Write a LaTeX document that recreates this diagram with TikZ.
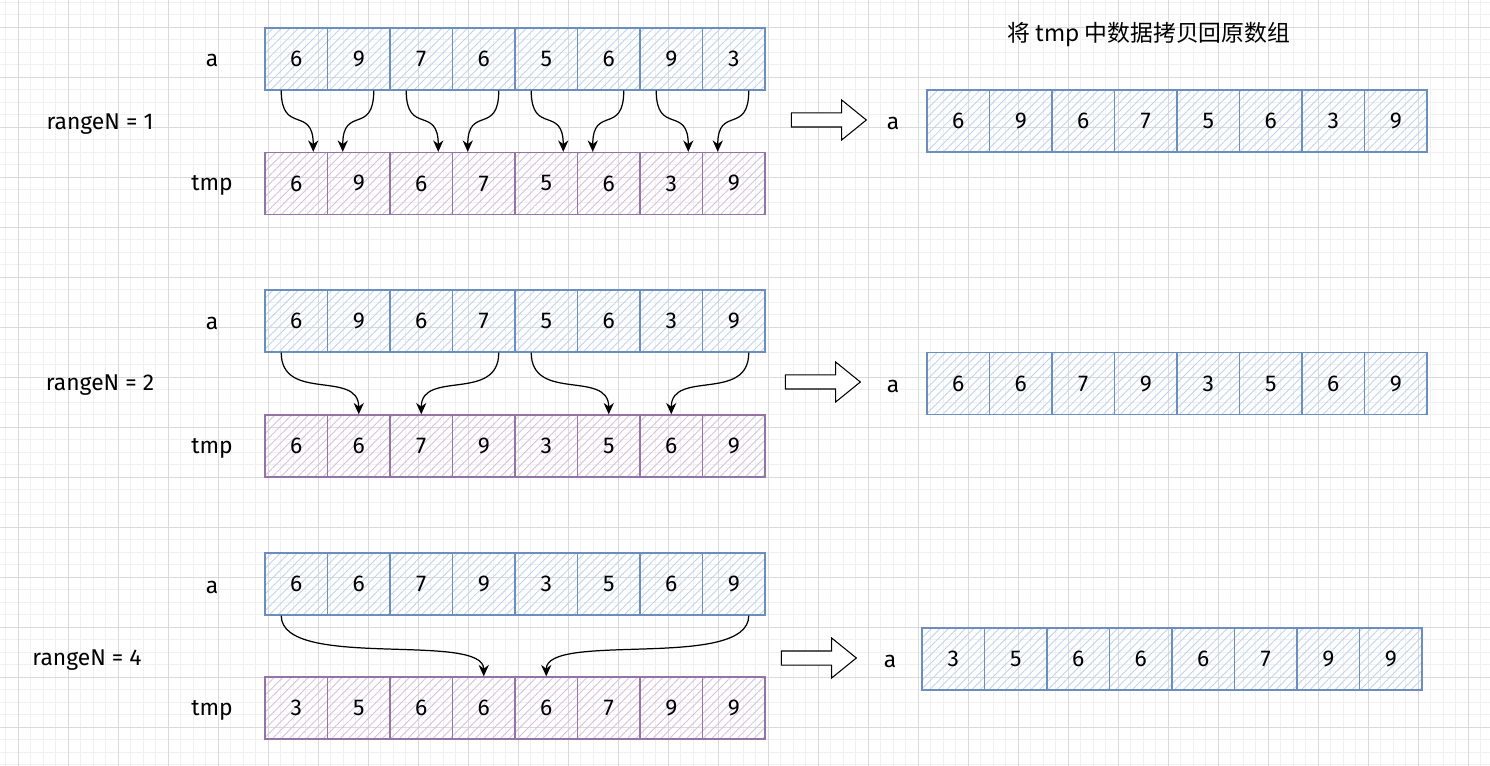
\documentclass[tikz,border=0pt]{standalone}
\usepackage{xcolor}
\usepackage{fontspec}
\setmainfont{Fira Sans}
\newfontfamily\cjk{Noto Sans CJK SC}
\usepackage{tikz}
\usetikzlibrary{arrows.meta, patterns.meta, shapes.arrows}

\definecolor{ablue}{HTML}{6C8EBF}
\definecolor{ahatch}{HTML}{BFD3F0}
\definecolor{tpurple}{HTML}{9673A6}
\definecolor{thatch}{HTML}{D5C2DD}
\definecolor{gridminor}{HTML}{F0F0F0}
\definecolor{gridmajor}{HTML}{DADADA}

\tikzset{
    cellbase/.style={minimum width=1.25cm, minimum height=1.24cm, inner sep=0, line width=0.75pt},
    acell/.style={cellbase, draw=ablue, pattern={Lines[angle=45, distance=3.4pt, line width=0.5pt]}, pattern color=ahatch},
    tcell/.style={cellbase, draw=tpurple, pattern={Lines[angle=45, distance=3.4pt, line width=0.5pt]}, pattern color=thatch},
    conn/.style={line width=0.7pt, -{Stealth[length=6.5pt, width=5.8pt]}},
    bigarrow/.style={single arrow, draw, line width=0.6pt, fill=white, minimum height=1.5cm,
        inner xsep=0, inner ysep=0.13cm, single arrow head extend=0.26cm, single arrow tip angle=78}
}

\begin{document}
\begin{tikzpicture}[x=0.02cm, y=-0.02cm, font=\fontsize{13}{15}\selectfont]
    \useasboundingbox (0, 0) rectangle (1490, 766);
    \fill[white] (0, 0) rectangle (1490, 766);

    % grid
    \foreach \gx in {5.5, 18, ..., 1490} \draw[gridminor, line width=0.5pt] (\gx, 0) -- (\gx, 766);
    \foreach \gy in {2, 14.5, ..., 766} \draw[gridminor, line width=0.5pt] (0, \gy) -- (1490, \gy);
    \foreach \gx in {18, 68, ..., 1490} \draw[gridmajor, line width=0.5pt] (\gx, 0) -- (\gx, 766);
    \foreach \gy in {27, 77, ..., 766} \draw[gridmajor, line width=0.5pt] (0, \gy) -- (1490, \gy);

    % title
    \node at (1149, 35) (title) {\cjk 将 tmp 中数据拷贝回原数组};

    % rangeN = 1
    \node at (100, 124) (n1) {rangeN = 1};
    \node at (212, 60) (la1) {a};
    \node at (212, 185) (lt1) {tmp};
    \foreach \v [count=\i from 0] in {6,9,7,6,5,6,9,3}
        \node[acell] (a1-\i) at (296.25+62.5*\i, 59) {\v};
    \foreach \v [count=\i from 0] in {6,9,6,7,5,6,3,9}
        \node[tcell] (t1-\i) at (296.25+62.5*\i, 183.5) {\v};
    \foreach \l/\r in {0/1, 2/3, 4/5, 6/7} {
        \draw[conn] ([xshift=-0.3cm]a1-\l.south) .. controls +(0, 45) and +(0, -47) .. ([xshift=0.34cm]t1-\l.north);
        \draw[conn] ([xshift=0.3cm]a1-\r.south) .. controls +(0, 45) and +(0, -47) .. ([xshift=-0.32cm]t1-\r.north);
    }
    \node[bigarrow] (go1) at (824.5, 120) {};
    \node at (893, 123) (lb1) {a};
    \foreach \v [count=\i from 0] in {6,9,6,7,5,6,3,9}
        \node[acell] (b1-\i) at (958.25+62.5*\i, 121) {\v};

    % rangeN = 2
    \node at (100, 385) (n2) {rangeN = 2};
    \node at (212, 323) (la2) {a};
    \node at (212, 448) (lt2) {tmp};
    \foreach \v [count=\i from 0] in {6,9,6,7,5,6,3,9}
        \node[acell] (a2-\i) at (296.25+62.5*\i, 321) {\v};
    \foreach \v [count=\i from 0] in {6,6,7,9,3,5,6,9}
        \node[tcell] (t2-\i) at (296.25+62.5*\i, 446) {\v};
    \draw[conn] ([xshift=-0.3cm]a2-0.south) .. controls +(0, 50) and +(0, -45) .. (t2-1.north);
    \draw[conn] ([xshift=0.3cm]a2-3.south) .. controls +(0, 50) and +(0, -45) .. (t2-2.north);
    \draw[conn] ([xshift=-0.3cm]a2-4.south) .. controls +(0, 50) and +(0, -45) .. (t2-5.north);
    \draw[conn] ([xshift=0.3cm]a2-7.south) .. controls +(0, 50) and +(0, -45) .. (t2-6.north);
    \node[bigarrow] (go2) at (818.5, 382) {};
    \node at (893, 386) (lb2) {a};
    \foreach \v [count=\i from 0] in {6,6,7,9,3,5,6,9}
        \node[acell] (b2-\i) at (958.25+62.5*\i, 383.5) {\v};

    % rangeN = 4
    \node at (87, 660) (n4) {rangeN = 4};
    \node at (212, 587) (la3) {a};
    \node at (212, 710) (lt3) {tmp};
    \foreach \v [count=\i from 0] in {6,6,7,9,3,5,6,9}
        \node[acell] (a3-\i) at (296.25+62.5*\i, 584) {\v};
    \foreach \v [count=\i from 0] in {3,5,6,6,6,7,9,9}
        \node[tcell] (t3-\i) at (296.25+62.5*\i, 708) {\v};
    \draw[conn] ([xshift=-0.3cm]a3-0.south) .. controls +(0, 55) and +(0, -45) .. (t3-3.north);
    \draw[conn] ([xshift=0.3cm]a3-7.south) .. controls +(0, 55) and +(0, -45) .. (t3-4.north);
    \node[bigarrow] (go3) at (814.5, 658) {};
    \node at (890, 661) (lb3) {a};
    \foreach \v [count=\i from 0] in {3,5,6,6,6,7,9,9}
        \node[acell] (b3-\i) at (953.25+62.5*\i, 659) {\v};

\end{tikzpicture}
\end{document}
